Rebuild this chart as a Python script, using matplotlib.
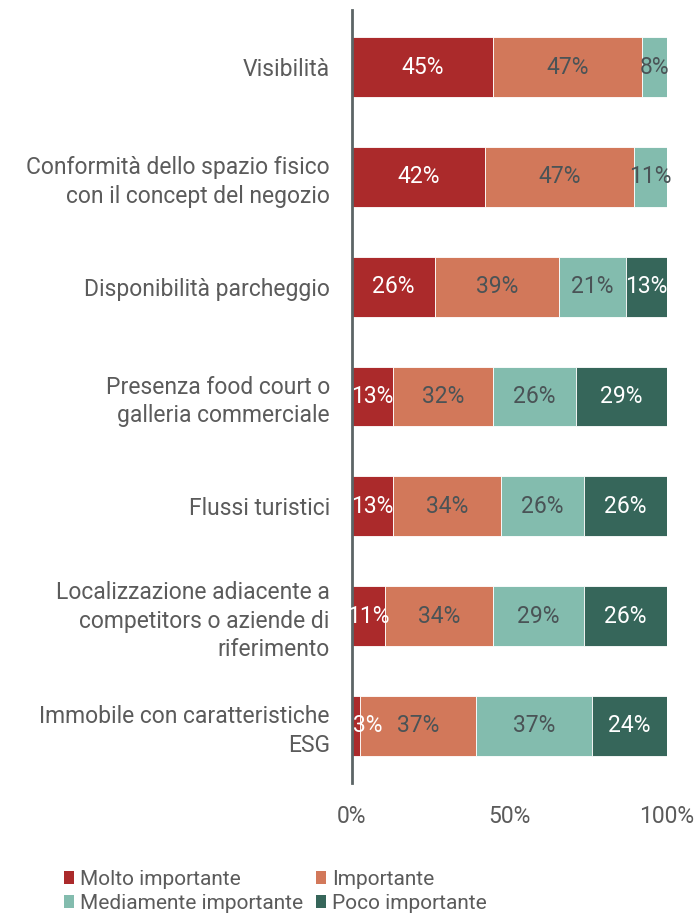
import numpy as np
import matplotlib.pyplot as plt
from matplotlib.patches import Patch

plt.rcParams['font.family'] = ['Roboto', 'DejaVu Sans']

# fattori di scelta della location (quote % sui rispondenti)
fattori = [
    'Visibilità',
    'Conformità dello spazio fisico\ncon il concept del negozio',
    'Disponibilità parcheggio',
    'Presenza food court o\ngalleria commerciale',
    'Flussi turistici',
    'Localizzazione adiacente a\ncompetitors o aziende di\nriferimento',
    'Immobile con caratteristiche\nESG',
]
molto = [44.74, 42.11, 26.32, 13.16, 13.16, 10.53, 2.63]
importante = [47.37, 47.37, 39.47, 31.58, 34.21, 34.21, 36.84]
mediamente = [7.89, 10.53, 21.05, 26.32, 26.32, 28.95, 36.84]
poco = [0.0, 0.0, 13.16, 28.95, 26.32, 26.32, 23.68]

serie = ['Molto importante', 'Importante', 'Mediamente importante', 'Poco importante']
colori = ['#ab2a2b', '#d2785a', '#83bcae', '#36665a']
col_testo = ['white', '#4a5356', '#4a5356', 'white']
grigio = '#5b5b5b'
fs = 16.5

fig = plt.figure(figsize=(6.97, 9.14), dpi=100)
ax = fig.add_axes([352 / 697, 1 - 783 / 914, 315 / 697, 773 / 914])

y = np.arange(len(fattori))
left = np.zeros(len(fattori))
for vals, c, tc in zip([molto, importante, mediamente, poco], colori, col_testo):
    vals = np.array(vals)
    ax.barh(y, vals, left=left, height=0.545, color=c, edgecolor='white', linewidth=0.6)
    for yi, l, v in zip(y, left, vals):
        if v <= 0:
            continue
        if v < 5:
            # segmento troppo stretto: etichetta allineata all'inizio della barra
            ax.text(l + 0.3, yi, f'{v:.0f}%', ha='left', va='center',
                    color=tc, fontsize=fs)
        else:
            ax.text(l + v / 2, yi, f'{v:.0f}%', ha='center', va='center',
                    color=tc, fontsize=fs)
    left += vals

ax.set_xlim(0, 100)
ax.set_ylim(len(fattori) - 0.5 + 0.02, -0.5 - 0.02)
ax.set_yticks(y)
ax.set_yticklabels(fattori, fontsize=fs, color=grigio, linespacing=1.3)
ax.set_xticks([0, 50, 100])
ax.set_xticklabels(['0%', '50%', '100%'], fontsize=fs, color=grigio)
ax.tick_params(axis='y', length=0, pad=16)
ax.tick_params(axis='x', length=0, pad=16)
for s in ['top', 'right', 'bottom']:
    ax.spines[s].set_visible(False)
ax.spines['left'].set_color('#5c6566')
ax.spines['left'].set_linewidth(2)

ordine = [0, 2, 1, 3]
handles = [Patch(facecolor=colori[i], label=serie[i]) for i in ordine]
fig.legend(handles=handles, ncol=2, loc='lower left', bbox_to_anchor=(64 / 697, 0.001),
           frameon=False, fontsize=15, handlelength=0.5, handleheight=0.6,
           handletextpad=0.27, columnspacing=0.6, labelspacing=0.25,
           labelcolor=grigio, borderaxespad=0.0, borderpad=0.0)

fig.savefig('out.png', dpi=100)
